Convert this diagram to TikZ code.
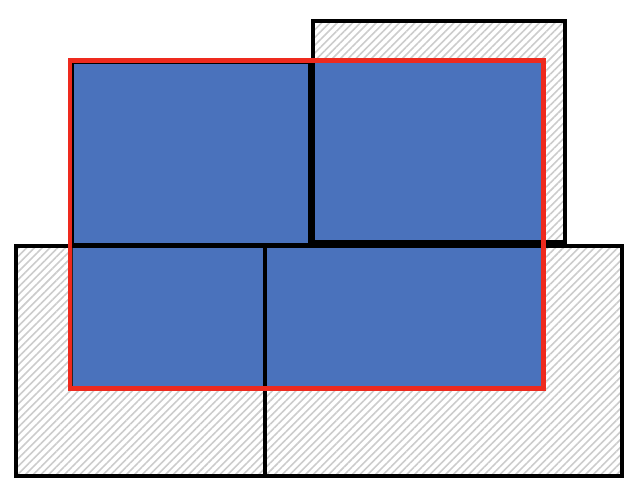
\documentclass[tikz,border=0pt]{standalone}
\usepackage{tikz}
\usetikzlibrary{patterns.meta}
\definecolor{cellblue}{HTML}{4A72BC}
\definecolor{framered}{HTML}{EE2A1E}

\begin{document}
\begin{tikzpicture}[x=1pt, y=-1pt,
  zone/.style={pattern={Lines[angle=45, distance=5.5pt, line width=1.6pt]}, pattern color=black!20},
  zoneedge/.style={draw=black, line width=3.6pt},
  cell/.style={fill=cellblue, draw=black!85, line width=1pt},
  frame/.style={draw=framered, line width=4.4pt},
]
\useasboundingbox (0,0) rectangle (639,500);
% corners of the four zones
\coordinate (a1) at (72,62);    \coordinate (a2) at (310,245);
\coordinate (b1) at (313,21);   \coordinate (b2) at (565,242);
\coordinate (c1) at (16,246);   \coordinate (c2) at (265,476);
\coordinate (d1) at (265,246);  \coordinate (d2) at (622,476);
\coordinate (r1) at (70,60.5);  \coordinate (r2) at (543.5,388.5);

% hatched zones
\path[zone] (b1) rectangle (b2);
\path[zone] (c1) rectangle (c2);
\path[zone] (d1) rectangle (d2);

% parts inside the red frame
\path[cell] (a1) rectangle (a2);
\path[cell] (313,62) rectangle (542,242);
\path[cell] (72,247) rectangle (264,386);
\path[cell] (266,247) rectangle (542,386);

% zone borders
\foreach \p/\q in {a1/a2, b1/b2, c1/c2, d1/d2}
  \draw[zoneedge] (\p) rectangle (\q);

% red frame
\draw[frame] (r1) rectangle (r2);
\end{tikzpicture}
\end{document}
